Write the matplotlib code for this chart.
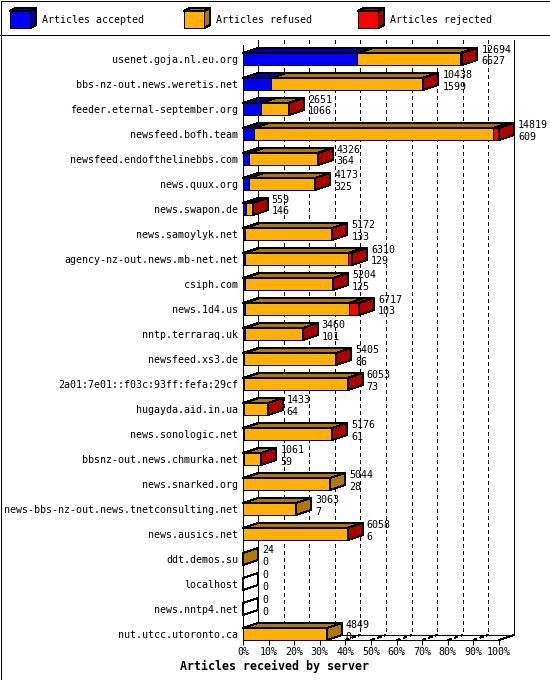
import matplotlib
matplotlib.use("Agg")
import matplotlib.pyplot as plt
from matplotlib.patches import Polygon, Rectangle

# per-server article counts
servers = [
    "usenet.goja.nl.eu.org", "bbs-nz-out.news.weretis.net",
    "feeder.eternal-september.org", "newsfeed.bofh.team",
    "newsfeed.endofthelinebbs.com", "news.quux.org", "news.swapon.de",
    "news.samoylyk.net", "agency-nz-out.news.mb-net.net", "csiph.com",
    "news.1d4.us", "nntp.terraraq.uk", "newsfeed.xs3.de",
    "2a01:7e01::f03c:93ff:fefa:29cf", "hugayda.aid.in.ua",
    "news.sonologic.net", "bbsnz-out.news.chmurka.net", "news.snarked.org",
    "news-bbs-nz-out.news.tnetconsulting.net", "news.ausics.net",
    "ddt.demos.su", "localhost", "news.nntp4.net", "nut.utcc.utoronto.ca",
]
accepted = [6627, 1599, 1066, 609, 364, 325, 146, 133, 129, 125, 103, 101,
            86, 73, 64, 61, 59, 28, 7, 6, 0, 0, 0, 0]
refused = [5917, 8759, 1565, 13860, 3947, 3833, 403, 5019, 5951, 5069, 6034,
           3349, 5309, 5960, 1359, 5105, 992, 5016, 3056, 6042, 24, 0, 0, 4849]
rejected = [150, 80, 20, 350, 15, 15, 10, 20, 230, 10, 580, 10, 10, 20, 10,
            10, 10, 0, 0, 10, 0, 0, 0, 0]

series_names = ["Articles accepted", "Articles refused", "Articles rejected"]
front_colors = ["#0000ff", "#ffb000", "#ff0000"]
dark_colors = ["#0000b0", "#b07800", "#b00000"]
pct_ticks = list(range(0, 101, 10))

W, H = 550, 680
MONO = "DejaVu Sans Mono"
FS = 7.2
LW = 0.72  # one pixel

fig = plt.figure(figsize=(W / 100, H / 100), dpi=100)
fig.patch.set_facecolor("white")

# front plane of the plot: 0%..100% -> px 243..499, rows top 45 .. floor 640
ax = fig.add_axes([243 / W, 40 / H, 256 / W, 595 / H])
y_top, y_floor = -0.56, 23.24
ax.set_xlim(0, 100)
ax.set_ylim(y_floor, y_top)
ax.patch.set_visible(False)

px_x = 256 / 100.0
px_y = 25.0
dx = 15 / px_x
dy = 5 / px_y
hh = 6 / px_y

totals = [a + r + j for a, r, j in zip(accepted, refused, rejected)]
scale = 100.0 / max(totals)


def poly(pts, fc, z):
    p = Polygon(pts, closed=True, facecolor=fc, edgecolor="black",
                linewidth=LW, zorder=z, clip_on=False, antialiased=False,
                joinstyle="miter")
    ax.add_patch(p)


# back walls, floor and grid
line_kw = dict(color="black", linewidth=LW, clip_on=False, antialiased=False)
ax.plot([dx, dx], [y_top - dy, y_floor - dy], zorder=1, **line_kw)
ax.plot([100 + dx, 100 + dx], [y_top - dy, y_floor - dy], zorder=1, **line_kw)
ax.plot([dx, 100 + dx], [y_floor - dy, y_floor - dy], zorder=1, **line_kw)
ax.plot([100, 100 + dx], [y_floor, y_floor - dy], zorder=1, **line_kw)
for p in pct_ticks[1:-1]:
    ax.plot([p + dx, p + dx], [y_top - dy, y_floor - dy], zorder=1,
            dashes=(4, 3), **line_kw)
    ax.plot([p, p + dx], [y_floor, y_floor - dy], zorder=1,
            dashes=(4, 3), **line_kw)

# stacked 3d bars
for i in range(len(servers)):
    vals = [accepted[i], refused[i], rejected[i]]
    top, bot = i - hh, i + hh
    x0 = 0.0
    last = None
    for k, v in enumerate(vals):
        if v == 0:
            continue
        x1 = x0 + v * scale
        poly([(x0, bot), (x1, bot), (x1, top), (x0, top)], front_colors[k], 3)
        poly([(x0, top), (x1, top), (x1 + dx, top - dy), (x0 + dx, top - dy)],
             dark_colors[k], 3)
        last = k
        x0 = x1
    side_fc = dark_colors[last] if last is not None else "none"
    if last is None:
        poly([(0, top), (0, top), (dx, top - dy), (dx, top - dy)], "none", 3)
    poly([(x0, top), (x0, bot), (x0 + dx, bot - dy), (x0 + dx, top - dy)],
         side_fc, 3)
    tx = x0 + dx + 4 / px_x
    ax.text(tx, i - 9 / px_y, str(totals[i]), fontsize=FS, family=MONO,
            ha="left", va="center", zorder=4, clip_on=False)
    ax.text(tx, i + 2.5 / px_y, str(accepted[i]), fontsize=FS, family=MONO,
            ha="left", va="center", zorder=4, clip_on=False)

# axes, ticks and labels
for side in ["top", "right"]:
    ax.spines[side].set_visible(False)
for side in ["left", "bottom"]:
    ax.spines[side].set_linewidth(LW)
    ax.spines[side].set_zorder(5)
ax.set_yticks(range(len(servers)))
ax.set_yticklabels(servers, fontsize=FS, family=MONO)
ax.tick_params(axis="y", length=0, pad=3.6)
ax.set_xticks(pct_ticks)
ax.set_xticklabels([f"{p}%" for p in pct_ticks], fontsize=FS, family=MONO)
ax.tick_params(axis="x", length=3.6, width=LW, pad=1.2, direction="out")

# overlay in pixel units: legend, frame, axis title
lg = fig.add_axes([0, 0, 1, 1])
lg.set_xlim(0, W)
lg.set_ylim(H, 0)
lg.axis("off")
lg.patch.set_visible(False)

for x, name, fc, dc in zip([10, 184, 358], series_names, front_colors, dark_colors):
    lg.add_patch(Polygon([(x, 11), (x + 6, 8), (x + 26, 8), (x + 20, 11)],
                         facecolor=dc, edgecolor="black", linewidth=LW,
                         antialiased=False))
    lg.add_patch(Polygon([(x + 20, 11), (x + 26, 8), (x + 26, 25), (x + 20, 28)],
                         facecolor=dc, edgecolor="black", linewidth=LW,
                         antialiased=False))
    lg.add_patch(Rectangle((x, 11), 20, 17, facecolor=fc, edgecolor="black",
                           linewidth=LW, antialiased=False))
    lg.text(x + 32, 20, name, fontsize=FS, family=MONO, ha="left", va="center")

lg.plot([0, W], [35, 35], color="black", linewidth=LW, antialiased=False)
lg.add_patch(Rectangle((0.5, 0.5), W - 1, H - 1, facecolor="none",
                       edgecolor="black", linewidth=LW, antialiased=False))
lg.text(W / 2, 666, "Articles received by server", fontsize=8.4, family=MONO,
        fontweight="bold", ha="center", va="center")

fig.savefig("out.png", dpi=100)
